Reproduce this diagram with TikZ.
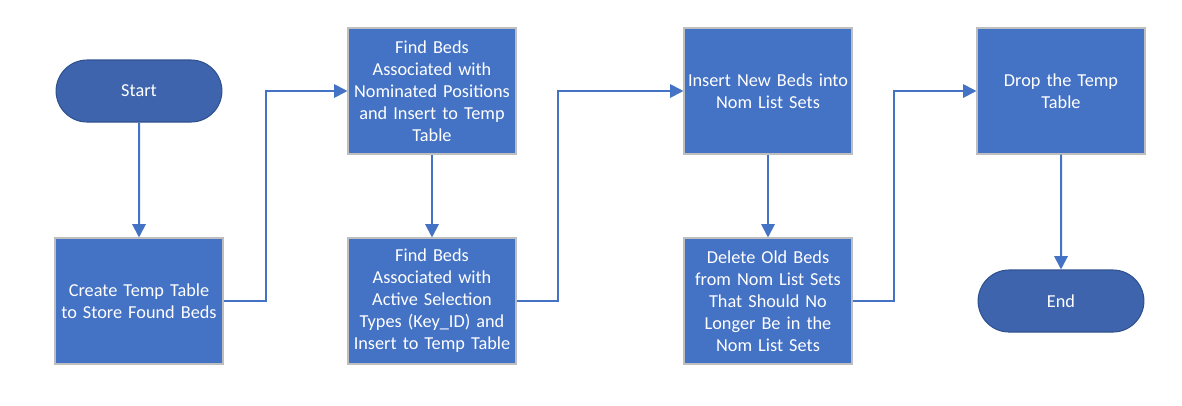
\documentclass[tikz,border=0pt]{standalone}
\usepackage{fontspec}
\setmainfont{Carlito}
\usetikzlibrary{arrows.meta, positioning, shapes.misc}
\definecolor{flowblue}{RGB}{68, 114, 196}
\definecolor{termblue}{RGB}{62, 100, 173}
\definecolor{termedge}{RGB}{47, 82, 143}
\definecolor{boxedge}{RGB}{190, 190, 190}

\begin{document}
\begin{tikzpicture}[x=0.75pt, y=-0.75pt,
        font=\fontsize{13.7}{16.5}\selectfont,
        proc/.style={draw=boxedge, line width=0.8pt, fill=flowblue,
                   text=white, minimum width=126pt, minimum height=94.5pt,
                   text width=122pt, align=center, inner sep=0pt},
        term/.style={rounded rectangle, draw=termedge, line width=0.8pt,
                   fill=termblue, text=white,
                   minimum width=131pt, minimum height=46.5pt},
        flow/.style={line width=1.5pt, flowblue,
                   -{Triangle[length=10pt, width=10pt]}},
      ]
        \useasboundingbox (0,0) rectangle (1182,405);
        \node[term] (start) at (139,91) {Start};
        \node[proc] (create) at (139,301) {Create Temp Table\\to Store Found Beds};
        \node[proc] (nomfind) at (432,91) {Find Beds\\Associated with\\Nominated Positions\\and Insert to Temp\\Table};
        \node[proc] (actfind) at (432,301) {Find Beds\\Associated with\\Active Selection\\Types (Key\_ID) and\\Insert to Temp Table};
        \node[proc] (insert) at (768,91) {Insert New Beds into\\Nom List Sets};
        \node[proc] (delete) at (768,301) {Delete Old Beds\\from Nom List Sets\\That Should No\\Longer Be in the\\Nom List Sets};
        \node[proc] (drop) at (1061,91) {Drop the Temp\\Table};
        \node[term] (end) at (1061,301) {End};

        \draw[flow] (start) -- (create);
        \draw[flow] (create.east) -- ++(42,0) |- (nomfind.west);
        \draw[flow] (nomfind) -- (actfind);
        \draw[flow] (actfind.east) -- ++(41,0) |- (insert.west);
        \draw[flow] (insert) -- (delete);
        \draw[flow] (delete.east) -- ++(41,0) |- (drop.west);
        \draw[flow] (drop) -- (end);
      \end{tikzpicture}
\end{document}
